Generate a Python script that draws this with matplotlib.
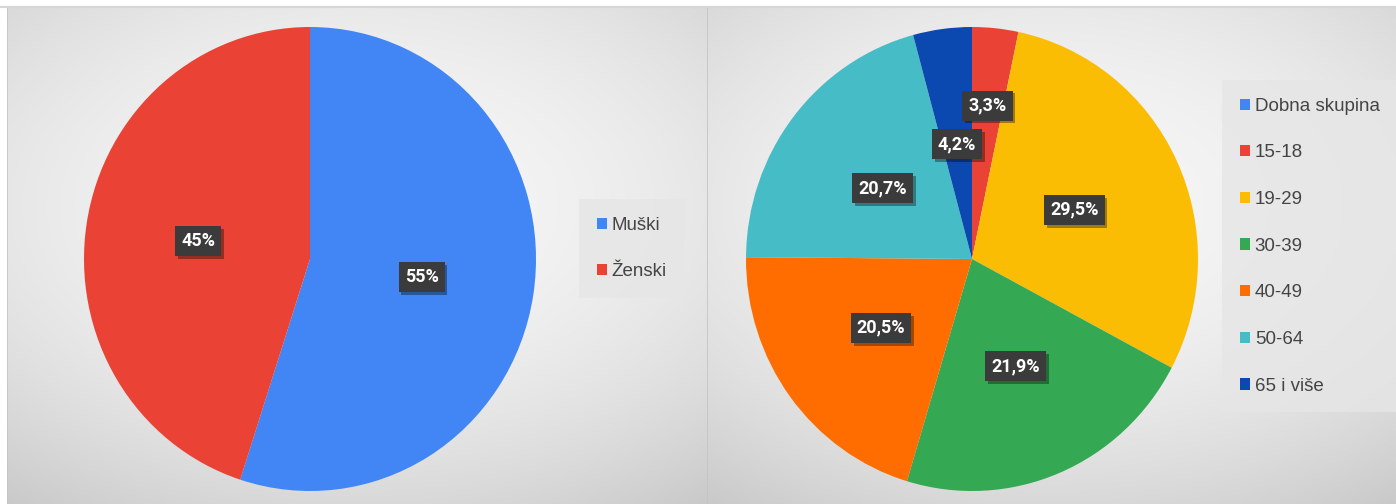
import numpy as np
import matplotlib.pyplot as plt
import matplotlib.patheffects as pe
from matplotlib.patches import Patch

# data
spol_labels = ['Muški', 'Ženski']
spol_values = [55, 45]
spol_colors = ['#4285F4', '#EA4335']

dob_labels = ['Dobna skupina', '15-18', '19-29', '30-39', '40-49', '50-64', '65 i više']
dob_values = [3.3, 29.5, 21.9, 20.5, 20.7, 4.2]
dob_colors = ['#4285F4', '#EA4335', '#FBBC04', '#34A853', '#FF6D01', '#46BDC6', '#0B48B0']

W, H = 1396, 504
fig = plt.figure(figsize=(W / 100, H / 100), dpi=100)
fig.patch.set_facecolor('white')


def px_axes(x0, y0, x1, y1):
    # axes from pixel box (top-left origin)
    return fig.add_axes([x0 / W, 1 - y1 / H, (x1 - x0) / W, (y1 - y0) / H])


def background(x0, y0, x1, y1):
    ax = px_axes(x0, y0, x1, y1)
    ny, nx = 200, 300
    yy, xx = np.mgrid[-1:1:ny * 1j, -1:1:nx * 1j]
    g = 0.965 - 0.06 * xx ** 2 - 0.08 * (yy + 0.2) ** 2
    ax.imshow(np.dstack([g, g, g]).clip(0, 1), aspect='auto', extent=[0, 1, 0, 1])
    ax.axvline(0.0, color='#c4c4c4', lw=1.2)
    ax.set_axis_off()
    return ax


background(7, 7, 707, 504)
background(707, 7, 1396, 504)
# top shadow line
fig.add_artist(plt.Line2D([0, 1], [1 - 7 / H, 1 - 7 / H], color='#d6d6d6', lw=1.5))


def style_labels(texts):
    for t in texts:
        t.set_color('white')
        t.set_fontweight('bold')
        t.set_fontsize(13)
        t.set_fontfamily('Roboto')
        t.set_bbox(dict(boxstyle='square,pad=0.33', fc='#3b3b3b', ec='none'))
        t.get_bbox_patch().set_path_effects(
            [pe.withSimplePatchShadow(offset=(2, -2), shadow_rgbFace='black', alpha=0.35), pe.Normal()])


def pie_axes(cx, cy, rx, ry):
    ax = px_axes(cx - rx, cy - ry, cx + rx, cy + ry)
    return ax


def finish(ax):
    ax.set_aspect('auto')
    ax.set_xlim(-1, 1)
    ax.set_ylim(-1, 1)
    ax.set_axis_off()


# left pie
ax1 = pie_axes(310, 259, 226, 232)
w1, t1, a1 = ax1.pie(spol_values, colors=spol_colors, startangle=90, counterclock=False,
                     radius=1, center=(0, 0), autopct='%d%%', pctdistance=0.5,
                     wedgeprops=dict(linewidth=0), frame=False)
finish(ax1)
style_labels(a1)

# right pie
ax2 = pie_axes(972, 259, 226, 232)
w2, t2, a2 = ax2.pie(dob_values, colors=dob_colors[1:], startangle=90, counterclock=False,
                     radius=1, center=(0, 0),
                     autopct=lambda p: ('%.1f%%' % p).replace('.', ','), pctdistance=0.5,
                     wedgeprops=dict(linewidth=0), frame=False)
finish(ax2)
# push the smallest label outward so it doesn't clash
x, y = a2[0].get_position()
a2[0].set_position((x * 1.33, y * 1.33))
style_labels(a2)

# legends
leg_kw = dict(loc='upper left', frameon=True, fancybox=False, handlelength=0.55, handleheight=0.55,
              handletextpad=0.25, labelspacing=1.58, borderpad=0.95, borderaxespad=0,
              prop={'family': 'Liberation Sans', 'size': 13.5}, labelcolor='#444444')

h1 = [Patch(fc=c, ec='none') for c in spol_colors]
l1 = fig.legend(h1, spol_labels, bbox_to_anchor=(579 / W, 1 - 199 / H), **leg_kw)
l1.get_frame().set_facecolor('#e6e6e6')
l1.get_frame().set_edgecolor('none')
l1.get_frame().set_alpha(0.8)

h2 = [Patch(fc=c, ec='none') for c in dob_colors]
l2 = fig.legend(h2, dob_labels, bbox_to_anchor=(1222 / W, 1 - 80 / H), **leg_kw)
l2.get_frame().set_facecolor('#e6e6e6')
l2.get_frame().set_edgecolor('none')
l2.get_frame().set_alpha(0.8)

fig.savefig('out.png', dpi=100)
